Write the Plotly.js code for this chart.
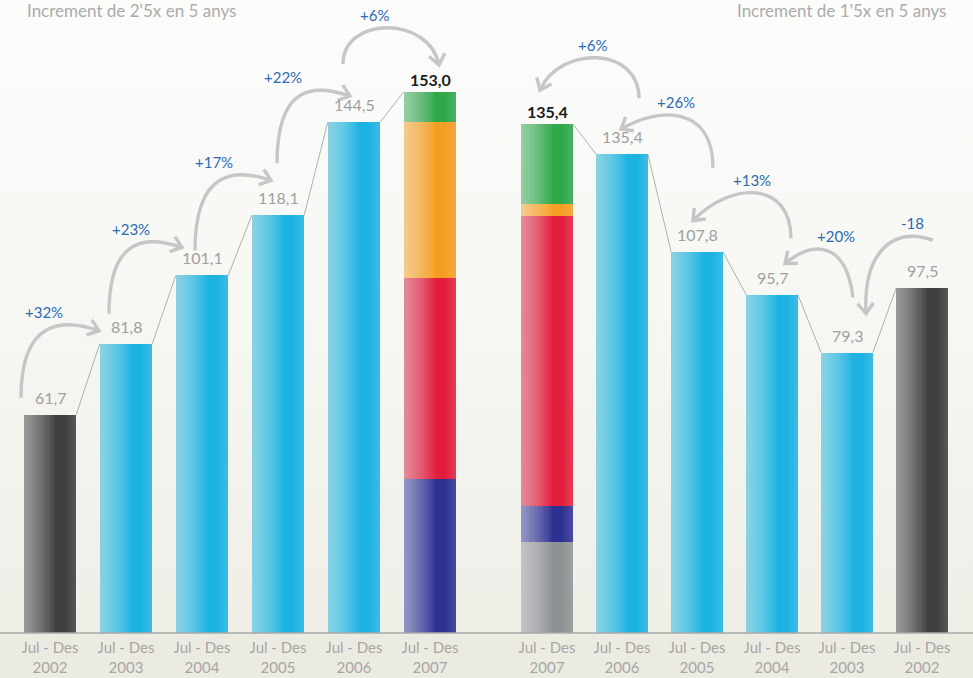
<!DOCTYPE html>
<html>
<head>
<meta charset="utf-8">
<script src="https://cdn.plot.ly/plotly-3.0.1.min.js"></script>
<style>html,body{margin:0;padding:0;background:#ecebe2;}#chart{width:973px;height:678px;}</style>
</head>
<body>
<div id="chart"></div>
<script>
// ---------- DATA ----------
const leftYears = ['2002', '2003', '2004', '2005', '2006', '2007'];
const rightYears = ['2007', '2006', '2005', '2004', '2003', '2002'];
const tickPrefix = 'Jul - Des';
const leftSingle = [61.7, 81.8, 101.1, 118.1, 144.5];        // Jul-Des 2002..2006
const leftStack2007 = [43.6, 56.8, 44.1, 8.5];               // bottom -> top
const rightStack2007 = [25.7, 10.2, 82.0, 3.4, 22.6];         // bottom -> top
const rightSingle = [135.4, 107.8, 95.7, 79.3, 97.5];         // Jul-Des 2006..2002
const stackTotalLabels = ['153,0', '135,4'];
const leftGrowth = ['+32%', '+23%', '+17%', '+22%', '+6%'];
const rightGrowth = ['+6%', '+26%', '+13%', '+20%', '-18'];
const titles = ["Increment de 2'5x en 5 anys", "Increment de 1'5x en 5 anys"];

// ---------- STYLE ----------
const W = 973, H = 678, MB = 45, PH = H - MB;
const YMAX = 179;
const BW = 0.69;
const FONT = 'Lato, "Open Sans", sans-serif';
const C = {blue:'#1cb3e3', dark:'#3e3e3e', navy:'#2e3192', red:'#e31d3c', orange:'#f59f22', green:'#2fa84a', gray:'#8e9194'};
const leftStackColors = [C.navy, C.red, C.orange, C.green];
const rightStackColors = [C.gray, C.navy, C.red, C.orange, C.green];
const domL = [12 / W, 468 / W], domR = [509.5 / W, 959.5 / W];

const fmt = v => v.toFixed(1).replace('.', ',');
const traces = [];

function bars(xa, xs, ys, bases, color) {
  traces.push({type:'bar', xaxis:xa, yaxis:'y', x:xs, y:ys, base:bases, width:BW,
    marker:{color:color, line:{width:0}}, hoverinfo:'skip', showlegend:false});
}
function cum(arr) { const b = []; let s = 0; arr.forEach(v => { b.push(s); s += v; }); return b; }

// left panel
bars('x', [0], [leftSingle[0]], [0], C.dark);
bars('x', [1,2,3,4], leftSingle.slice(1), [0,0,0,0], C.blue);
const lb = cum(leftStack2007);
leftStack2007.forEach((v, k) => bars('x', [5], [v], [lb[k]], leftStackColors[k]));
// right panel
const rb = cum(rightStack2007);
rightStack2007.forEach((v, k) => bars('x2', [0], [v], [rb[k]], rightStackColors[k]));
bars('x2', [1,2,3,4], rightSingle.slice(0,4), [0,0,0,0], C.blue);
bars('x2', [5], [rightSingle[4]], [0], C.dark);

const sum = a => a.reduce((p, q) => p + q, 0);
const leftTotals = leftSingle.concat([sum(leftStack2007)]);
const rightTotals = [sum(rightStack2007)].concat(rightSingle);

// smooth horizontal shine: nested translucent white bars anchored at the left / right edges
function shine(xa, tots, from, to, n, alpha, anchorLeft) {
  for (let k = 1; k <= n; k++) {
    const frac = (to - from) * k / n;
    const wdt = BW * frac;
    const off = anchorLeft ? -BW / 2 : BW / 2 - wdt;
    traces.push({type:'bar', xaxis:xa, yaxis:'y', x:tots.map((_, i) => i), y:tots, base:tots.map(() => 0),
      width:wdt, offset:off,
      marker:{color:'rgba(255,255,255,' + alpha.toFixed(4) + ')', line:{width:0}}, hoverinfo:'skip', showlegend:false});
  }
}
const NL = 20, NR = 8;
const aL = 1 - Math.pow(0.48, 1 / NL), aR = 1 - Math.pow(0.86, 1 / NR);
[['x', leftTotals], ['x2', rightTotals]].forEach(([xa, tots]) => {
  shine(xa, tots, 0, 0.6, NL, aL, true);
  shine(xa, tots, 0.8, 1.0, NR, aR, false);
});

// connector lines between bar tops
[['x', leftTotals], ['x2', rightTotals]].forEach(([xa, tots]) => {
  const xs = [], ys = [];
  for (let i = 0; i < tots.length - 1; i++) {
    xs.push(i + BW / 2, i + 1 - BW / 2, null);
    ys.push(tots[i], tots[i + 1], null);
  }
  traces.push({type:'scatter', mode:'lines', xaxis:xa, yaxis:'y', x:xs, y:ys,
    line:{color:'#9d9d9d', width:0.8}, hoverinfo:'skip', showlegend:false});
});

// ---------- ANNOTATIONS ----------
const annotations = [];
function valueLabel(xa, i, v, txt, bold) {
  annotations.push({xref:xa, yref:'y', x:i, y:v, text: bold ? '<b>' + txt + '</b>' : txt, showarrow:false,
    yanchor:'bottom', yshift: bold ? 1 : 6,
    font:{family:FONT, size:16, color: bold ? '#1b1b1b' : '#a0a0a0'}});
}
leftSingle.forEach((v, i) => valueLabel('x', i, v, fmt(v), false));
valueLabel('x', 5, leftTotals[5], stackTotalLabels[0], true);
valueLabel('x2', 0, rightTotals[0], stackTotalLabels[1], true);
rightSingle.forEach((v, i) => valueLabel('x2', i + 1, v, fmt(v), false));

// titles
annotations.push({xref:'paper', yref:'paper', x:25 / W, y:1, xanchor:'left', yanchor:'top', yshift:2,
  text:titles[0], showarrow:false, font:{family:FONT, size:17, color:'#ababab'}});
annotations.push({xref:'paper', yref:'paper', x:948 / W, y:1, xanchor:'right', yanchor:'top', yshift:2,
  text:titles[1], showarrow:false, font:{family:FONT, size:17, color:'#ababab'}});

// ---------- CURVED ARROWS (decoration placed relative to bars) ----------
function pxX(dom, i) { return (dom[0] + (i + 0.5) / 6 * (dom[1] - dom[0])) * W; }
function pxY(v) { return PH - v / YMAX * PH; }
const arrowDefs = [
  {dom:domL, tots:leftTotals, from:0, to:1, lab:leftGrowth[0], tail:[-29,-17], c1:[0,-80], c2:[-35,-12], head:[-27,-13], f:0.3},
  {dom:domL, tots:leftTotals, from:1, to:2, lab:leftGrowth[1], tail:[-17,-30], c1:[0,-78], c2:[-35,-12], head:[-20,-28], f:0.3},
  {dom:domL, tots:leftTotals, from:2, to:3, lab:leftGrowth[2], tail:[-7,-25], c1:[0,-82], c2:[-35,-12], head:[-7,-35], f:0.25},
  {dom:domL, tots:leftTotals, from:3, to:4, lab:leftGrowth[3], tail:[-1,-52], c1:[0,-80], c2:[-35,-12], head:[-4,-26], f:0.08},
  {dom:domL, tots:leftTotals, from:4, to:5, lab:leftGrowth[4], tail:[-11,-58], c1:[0,-48], c2:[-10,-50], head:[9,-27], f:0.33},
  {dom:domR, tots:rightTotals, from:1, to:0, lab:rightGrowth[0], tail:[17,-56], c1:[0,-52], c2:[20,-45], head:[-7,-34], f:0.47},
  {dom:domR, tots:rightTotals, from:2, to:1, lab:rightGrowth[1], tail:[16,-84], c1:[0,-62], c2:[38,-23], head:[-1,-25], f:0.4},
  {dom:domR, tots:rightTotals, from:3, to:2, lab:rightGrowth[2], tail:[19,-56], c1:[0,-58], c2:[38,-40], head:[-4,-31], f:0.4},
  {dom:domR, tots:rightTotals, from:4, to:3, lab:rightGrowth[3], tail:[6,-55], c1:[-7,-57], c2:[28,-23], head:[13,-31], f:0.25},
  {dom:domR, tots:rightTotals, from:5, to:4, lab:rightGrowth[4], tail:[11,-48], c1:[-43,-15], c2:[-3,-58], head:[19,-39], f:0.3}
];
const shapes = [];
const P = (x, y) => (x / W).toFixed(5) + ',' + (1 - y / PH).toFixed(5);
arrowDefs.forEach(a => {
  const t = [pxX(a.dom, a.from) + a.tail[0], pxY(a.tots[a.from]) + a.tail[1]];
  const h = [pxX(a.dom, a.to) + a.head[0], pxY(a.tots[a.to]) + a.head[1]];
  const c1 = [t[0] + a.c1[0], t[1] + a.c1[1]];
  const c2 = [h[0] + a.c2[0], h[1] + a.c2[1]];
  let dx = h[0] - c2[0], dy = h[1] - c2[1];
  const L = Math.hypot(dx, dy); dx /= L; dy /= L;
  const wl = 13, ang = 38 * Math.PI / 180;
  const w1 = [h[0] - wl * (dx * Math.cos(ang) - dy * Math.sin(ang)), h[1] - wl * (dx * Math.sin(ang) + dy * Math.cos(ang))];
  const w2 = [h[0] - wl * (dx * Math.cos(-ang) - dy * Math.sin(-ang)), h[1] - wl * (dx * Math.sin(-ang) + dy * Math.cos(-ang))];
  shapes.push({type:'path', xref:'paper', yref:'paper', layer:'above',
    path:'M' + P(t[0], t[1]) + ' C' + P(c1[0], c1[1]) + ' ' + P(c2[0], c2[1]) + ' ' + P(h[0], h[1]) +
         ' M' + P(w1[0], w1[1]) + ' L' + P(h[0], h[1]) + ' L' + P(w2[0], w2[1]),
    line:{color:'#c6c6c9', width:3.4}});
  let peak = 1e9;
  for (let s = 0; s <= 1; s += 0.02) {
    const u = 1 - s;
    const y = u*u*u*t[1] + 3*u*u*s*c1[1] + 3*u*s*s*c2[1] + s*s*s*h[1];
    if (y < peak) peak = y;
  }
  const lx = t[0] + a.f * (h[0] - t[0]);
  annotations.push({xref:'paper', yref:'paper', x:lx / W, y:1 - (peak - 13) / PH, text:a.lab, showarrow:false,
    xanchor:'center', yanchor:'middle', font:{family:FONT, size:15, color:'#2b6cb4'}});
});

// baseline
shapes.push({type:'line', xref:'paper', yref:'paper', x0:0, x1:1, y0:0, y1:0, layer:'above',
  line:{color:'#a8a8a8', width:1.5}});

// background gradient
const svg = "<svg xmlns='http://www.w3.org/2000/svg' width='10' height='678' viewBox='0 0 10 678' preserveAspectRatio='none'>" +
  "<defs><linearGradient id='g' x1='0' y1='0' x2='0' y2='1'>" +
  "<stop offset='0' stop-color='#fcfcfb'/><stop offset='0.5' stop-color='#f6f6f2'/><stop offset='0.933' stop-color='#efeee7'/>" +
  "<stop offset='0.934' stop-color='#ecebe2'/><stop offset='1' stop-color='#ecebe2'/></linearGradient></defs>" +
  "<rect width='10' height='678' fill='url(#g)'/></svg>";
const bgImg = 'data:image/svg+xml;charset=utf-8,' + encodeURIComponent(svg);

const axisX = (dom, years) => ({domain:dom, range:[-0.5, 5.5], anchor:'y', tickvals:[0,1,2,3,4,5],
  ticktext:years.map(y => tickPrefix + '<br>' + y), ticks:'', ticklabelstandoff:4, showgrid:false, zeroline:false, showline:false,
  tickfont:{family:FONT, size:15, color:'#a6a6a6'}, fixedrange:true});

const layout = {
  width:W, height:H, margin:{l:0, r:0, t:0, b:MB},
  paper_bgcolor:'#ecebe2', plot_bgcolor:'rgba(0,0,0,0)',
  barmode:'overlay', bargap:0,
  xaxis:axisX(domL, leftYears), xaxis2:axisX(domR, rightYears),
  yaxis:{range:[0, YMAX], visible:false, fixedrange:true},
  annotations:annotations, shapes:shapes,
  images:[{source:bgImg, xref:'paper', yref:'paper', x:0, y:1, sizex:1, sizey:H / PH,
    xanchor:'left', yanchor:'top', sizing:'stretch', layer:'below'}],
  showlegend:false
};
Plotly.newPlot('chart', traces, layout, {displayModeBar:false, staticPlot:true});
</script>
</body>
</html>
